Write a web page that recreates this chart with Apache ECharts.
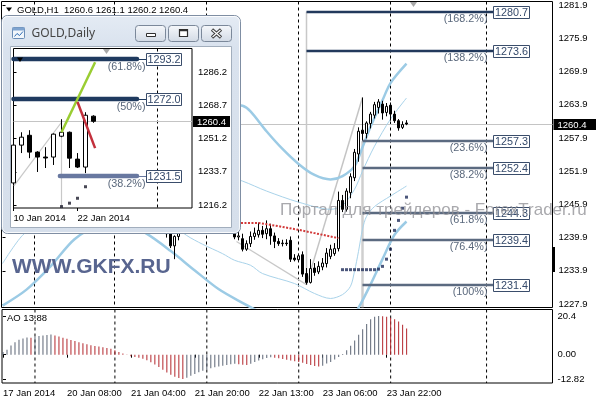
<!DOCTYPE html>
<html>
<head>
<meta charset="utf-8">
<script src="https://cdn.jsdelivr.net/npm/echarts@6.0.0/dist/echarts.min.js"></script>
<style>
html,body{margin:0;padding:0;background:#fff;overflow:hidden}
#chart{width:596px;height:400px}
</style>
</head>
<body>
<div id="chart"></div>
<script>
// ================= DATA =================
const symbolH1 = 'GOLD,H1';
const headerOHLC = [1260.6, 1261.1, 1260.2, 1260.4];

const h1Open = [1241.6,1242.5,1243.8,1244.6,1245.9,1247.2,1248.0,1249.3,1249.0,1251.4,
1252.2,1253.0,1253.8,1253.1,1252.6,1253.2,1252.5,1254.3,1256.1,1258.2,
1259.0,1257.0,1255.8,1255.1,1255.6,1254.9,1255.2,1254.5,1254.8,1254.2,
1254.6,1254.0,1252.6,1251.4,1250.3,1249.0,1247.6,1246.3,1244.9,1243.6,
1242.4,1241.5,1240.6,1238.4,1240.1,1240.9,1241.8,1242.5,1242.0,1243.0,
1243.6,1243.1,1243.5,1243.0,1242.4,1242.8,1241.9,1242.2,1241.3,1240.0,
1239.7,1237.8,1238.8,1240.1,1240.4,1241.2,1240.6,1241.5,1240.2,1239.2,
1238.8,1238.9,1239.4,1236.2,1235.9,1236.8,1233.4,1231.8,1234.4,1233.7,
1234.6,1235.2,1236.5,1237.0,1237.9,1246.6,1245.0,1248.0,1250.7,1255.0,
1259.3,1258.7,1260.5,1262.0,1263.4,1264.0,1262.5,1263.8,1262.2,1261.0,
1259.8,1260.6];
const h1High = [1243.0,1244.2,1245.0,1246.4,1247.8,1248.5,1249.9,1250.6,1251.8,1252.8,
1253.6,1254.4,1254.6,1253.9,1253.5,1254.0,1254.9,1256.8,1258.9,1261.5,
1259.8,1257.9,1256.6,1256.0,1256.3,1255.7,1255.9,1255.4,1255.5,1255.0,
1255.3,1254.6,1253.3,1252.0,1251.1,1249.7,1248.4,1247.0,1245.6,1244.3,
1243.2,1242.1,1241.0,1240.3,1241.5,1242.3,1243.0,1243.6,1243.4,1244.2,
1244.5,1244.0,1244.4,1243.8,1243.1,1243.3,1242.6,1242.8,1241.8,1241.2,
1240.6,1239.4,1241.0,1241.7,1242.6,1242.0,1243.0,1242.4,1240.8,1239.8,
1239.5,1239.6,1240.1,1236.9,1237.0,1237.4,1234.4,1236.0,1235.3,1235.6,
1236.2,1238.0,1238.6,1238.9,1248.2,1247.6,1248.8,1251.5,1255.9,1259.8,
1265.2,1260.9,1262.6,1264.4,1264.9,1264.6,1264.2,1264.3,1262.8,1261.3,
1260.9,1261.1];
const h1Low = [1241.2,1242.0,1243.2,1244.1,1245.3,1246.6,1247.4,1248.5,1248.7,1250.6,
1251.5,1252.3,1252.6,1252.0,1251.8,1252.4,1252.1,1253.8,1255.4,1257.6,
1256.4,1255.2,1254.4,1254.2,1254.6,1253.9,1254.1,1253.6,1253.8,1253.5,
1253.7,1252.2,1251.0,1249.8,1248.6,1247.2,1245.9,1244.5,1243.1,1242.0,
1241.0,1239.9,1238.0,1236.0,1239.4,1240.6,1241.2,1241.9,1241.6,1242.5,
1242.8,1242.4,1242.9,1242.1,1241.6,1241.5,1241.2,1240.8,1239.6,1239.4,
1237.4,1237.5,1238.2,1239.5,1239.9,1239.8,1239.6,1238.6,1238.0,1238.4,
1238.3,1238.4,1235.5,1235.6,1235.6,1232.8,1231.4,1231.6,1233.0,1233.3,
1234.0,1234.5,1236.0,1236.6,1237.4,1244.5,1244.6,1247.0,1250.1,1253.6,
1257.4,1257.8,1259.6,1261.4,1262.3,1261.2,1261.8,1261.0,1260.6,1259.2,
1259.5,1260.2];
const h1Close = [1242.5,1243.8,1244.6,1245.9,1247.2,1248.0,1249.3,1249.0,1251.4,1252.2,
1253.0,1253.8,1253.1,1252.6,1253.2,1252.8,1254.3,1256.1,1258.2,1259.0,
1257.0,1255.8,1255.1,1255.6,1254.9,1255.2,1254.5,1254.8,1254.2,1254.6,
1254.0,1252.6,1251.4,1250.3,1249.0,1247.6,1246.3,1244.9,1243.6,1242.4,
1241.5,1240.6,1238.4,1240.1,1240.9,1241.8,1242.5,1242.0,1243.0,1243.6,
1243.1,1243.5,1243.0,1242.4,1242.8,1241.9,1242.2,1241.3,1240.0,1240.2,
1237.8,1238.8,1240.1,1240.7,1241.2,1240.5,1241.5,1240.2,1239.2,1238.8,
1238.9,1238.8,1236.0,1235.9,1236.6,1233.3,1231.8,1234.3,1233.6,1234.7,
1235.3,1237.1,1237.8,1237.9,1246.6,1245.0,1248.3,1250.9,1255.3,1259.1,
1258.7,1260.6,1262.2,1263.9,1264.4,1262.4,1263.6,1262.2,1261.0,1259.7,
1260.3,1260.4];

const aoValues = [1.4,2.6,4.8,6.6,7.9,8.6,9.1,9.0,9.6,9.9,
10.1,10.4,10.7,10.2,9.6,9.0,8.4,7.8,7.2,6.6,
6.0,5.5,5.0,4.6,4.3,4.0,3.6,3.1,2.3,1.4,
0.6,0.05,-0.8,-1.2,-1.6,-2.2,-3.0,-4.0,-5.2,-6.5,
-8.0,-9.4,-10.6,-11.6,-12.3,-12.82,-12.2,-11.2,-10.2,-9.3,
-8.5,-7.8,-7.2,-6.7,-6.2,-5.8,-5.4,-5.1,-4.8,-5.0,
-5.3,-5.5,-4.8,-3.9,-3.1,-2.4,-1.8,-1.4,-1.6,-1.9,
-2.3,-2.7,-3.1,-3.5,-3.9,-4.3,-4.9,-5.5,-6.0,-6.3,
-5.8,-4.7,-3.8,-2.6,-1.2,0.4,2.3,4.7,7.5,10.5,
13.4,16.2,18.7,20.0,20.4,20.3,20.1,19.6,18.8,17.5,
15.8,13.88];
const aoLabel = 'AO 13.88';

const xTickBars = [0, 16, 32, 48, 64, 80, 96];
const xTickLabels = ['17 Jan 2014','20 Jan 08:00','21 Jan 04:00','21 Jan 20:00','22 Jan 13:00','23 Jan 06:00','23 Jan 22:00'];
const priceTicks = [1281.9,1275.9,1269.9,1263.9,1257.9,1251.9,1245.9,1239.9,1233.9,1227.9];
const aoTicks = [20.4, 0, -12.82];
const aoTickLabels = ['20.4','0.00','-12.82'];
const gridBars = [8, 28, 51, 74, 97, 121];
const currentPrice = 1260.4;

const bbOuterUpper = [[0,1262.5],[8,1264.5],[16,1266.0],[24,1266.8],[32,1266.2],[40,1265.5],[48,1264.8],[54,1264.3],[60,1263.7],[62,1262.7],[66,1259.1],[70,1255.9],[74,1253.2],[78,1251.2],[82,1250.4],[85,1251.0],[88,1252.8],[90,1256.2],[92,1259.9],[95,1264.7],[97,1267.8],[101,1271.3]];
const bbOuterLower = [[0,1227.6],[6,1230.5],[12,1234.7],[18,1239.6],[24,1242.0],[30,1242.6],[36,1240.6],[42,1237.5],[48,1234.0],[54,1230.6],[60,1228.1],[64,1226.6],[70,1224.5],[76,1223.0],[82,1222.6],[86,1223.8],[89,1227.2],[92,1231.4],[95,1236.0],[98,1240.4],[101,1242.8]];
const bbInnerUpper = [[0,1254.0],[10,1256.5],[20,1258.5],[30,1258.0],[40,1255.5],[50,1252.5],[60,1250.1],[66,1248.3],[74,1246.3],[82,1245.0],[85,1245.7],[88,1248.6],[90,1251.9],[93,1256.4],[97,1261.3],[101,1265.1]];
const bbInnerLower = [[0,1235.2],[5,1240.3],[10,1242.8],[20,1245.5],[30,1246.5],[40,1243.5],[46,1240.3],[50,1238.7],[55,1237.0],[58,1235.8],[62,1234.9],[65,1233.4],[73,1231.6],[78,1229.8],[82,1228.9],[85,1229.6],[87,1231.1],[88,1233.8],[89,1237.4],[90,1241.4],[91,1243.7],[93,1245.5],[97,1247.4],[101,1249.2]];
const redStop = [[50,1242.3],[56,1242.5],[60,1242.55],[64,1242.55],[69,1241.95],[74,1241.3],[78,1240.7],[82,1240.1],[84,1239.8]];
const sarBars = [85,86,87,88,89,90,91,92,93,94,95,96,97,98,99,100,101];
const sarValues = [1234.1,1234.1,1234.1,1234.1,1234.1,1234.1,1234.1,1234.1,1234.1,1234.2,1234.7,1236.0,1237.8,1241.2,1243.0,1245.2,1247.2];
const grayLines = [[76,1231.4,90,1265.2],[58.5,1239.2,76,1231.4],[76,1280.7,76,1231.4],[90,1257.3,90,1227.3]];
const fibLevels = [1280.7,1273.6,1257.3,1252.4,1244.3,1239.4,1231.4];
const fibLabels = ['(168.2%)','(138.2%)','(23.6%)','(38.2%)','(61.8%)','(76.4%)','(100%)'];
const fibStartBars = [76,76,90,90,90,90,90];

// ---- Daily inset ----
const dailyTitle = 'GOLD,Daily';
const dailyOpen  = [1227.8,1247.8,1253.0,1244.1,1241.5,1241.5,1252.5,1254.6,1240.4,1236.2,1263.1];
const dailyHigh  = [1249.0,1254.6,1255.7,1244.6,1246.7,1254.0,1261.5,1255.0,1243.6,1265.2,1263.6];
const dailyLow   = [1227.0,1243.6,1240.9,1233.6,1235.7,1237.3,1252.0,1235.7,1235.7,1233.0,1259.6];
const dailyClose = [1247.8,1252.0,1244.1,1241.5,1241.0,1253.6,1254.6,1240.9,1236.2,1263.6,1260.4];
const dailyTickBars = [0, 8];
const dailyTickLabels = ['10 Jan 2014','22 Jan 2014'];
const dailyPriceTicks = [1286.2,1268.7,1251.2,1233.7,1216.2];
const dailyGridBars = [18];
const dailyFibLevels = [1293.2,1272.0,1231.5];
const dailyFibLabels = ['(61.8%)','(50%)','(38.2%)'];
const dailyFibStart = [0,0,5.8];
const dailySar = [[6,1215.3],[7,1217.1],[8,1219.7],[9,1225.8]];
const dailyGreen = [[6,1254.6],[10.2,1291.6]];
const dailyRed = [[8,1270.6],[10.2,1246.2]];
const dailyGray = [[0.05,1226.2,6,1259.9],[6,1259.9,6,1214.6]];

// ================= RENDER =================
const FONT = '"Liberation Sans", Arial, sans-serif';
const MAIN_FIB_END = 122.625;
const DAILY_FIB_END = 15.44;

function txt(x, y, text, o) {
  o = o || {};
  const al = o.align || 'left', va = o.va || 'middle';
  return {x: x, y: y, text: text, fill: o.fill || '#000', fontSize: o.size || 9.5,
    fontFamily: o.family || FONT, fontWeight: o.weight || 'normal',
    align: al, verticalAlign: va, textAlign: al, textVerticalAlign: va};
}

function gridlineSeries(xi, yi, bars, yVal, z) {
  return {type:'custom', xAxisIndex:xi, yAxisIndex:yi, z:z, silent:true,
    data: bars.map(b => [b, yVal]), encode:{x:0, y:1},
    renderItem: function(params, api) {
      const cs = params.coordSys;
      const x = api.coord([api.value(0), yVal])[0];
      return {type:'line', shape:{x1:x, y1:cs.y, x2:x, y2:cs.y+cs.height},
        style:{stroke:'#000', lineWidth:1, lineDash:[3,3]}};
    }};
}

function fibSeries(xi, yi, z, cfg) {
  return {type:'custom', xAxisIndex:xi, yAxisIndex:yi, z:z, silent:true,
    data: cfg.levels.map((p,k) => [cfg.starts[k], p, k]), encode:{x:0, y:1},
    renderItem: function(params, api) {
      const k = api.value(2), p = api.value(1);
      const s = api.coord([api.value(0), p]);
      const e = api.coord([cfg.end, p]);
      const y = Math.round(s[1]);
      const col = cfg.colors[k];
      const bx = Math.round(e[0] + cfg.gap) + 0.5;
      const ch = [{type:'line', shape:{x1:s[0], y1:y, x2:e[0], y2:y}, style:{stroke:col, lineWidth:cfg.lw, lineCap:cfg.cap}}];
      if (cfg.gap > 0) ch.push({type:'line', shape:{x1:e[0], y1:y+0.5, x2:bx, y2:y+0.5}, style:{stroke:col, lineWidth:1}});
      ch.push({type:'rect', shape:{x:bx, y:y - cfg.bh/2 + 0.5, width:cfg.bw, height:cfg.bh}, style:{fill:'#fff', stroke:cfg.boxStroke, lineWidth:1}});
      ch.push({type:'text', style: txt(bx + cfg.bw/2, y + 1, cfg.levels[k].toFixed(1), {align:'center', size:10.8, fill:cfg.textColor})});
      ch.push({type:'text', style: txt(bx - cfg.pctGap, y + cfg.pctDy, cfg.labels[k], {align:'right', size:10.8, fill:'#5a687c'})});
      return {type:'group', children: ch};
    }};
}

function priceLineSeries(xi, yi, z, boxW) {
  return {type:'custom', xAxisIndex:xi, yAxisIndex:yi, z:z, silent:true,
    data:[[0, currentPrice]], encode:{x:0, y:1},
    renderItem: function(params, api) {
      const cs = params.coordSys;
      const y = Math.round(api.coord([0, api.value(1)])[1]) + 0.5;
      const rx = cs.x + cs.width + 1;
      return {type:'group', children:[
        {type:'line', shape:{x1:cs.x, y1:y, x2:cs.x+cs.width, y2:y}, style:{stroke:'#c4c4c4', lineWidth:1}},
        {type:'rect', shape:{x:rx, y:y-5.5, width:boxW, height:11}, style:{fill:'#000'}},
        {type:'text', style: txt(rx + 4, y + 0.5, currentPrice.toFixed(1), {fill:'#fff'})}
      ]};
    }};
}

function segSeries(xi, yi, z, segs, colors, widths) {
  return {type:'custom', xAxisIndex:xi, yAxisIndex:yi, z:z, silent:true,
    data: segs.map((s,k) => [s[0], s[1], s[2], s[3], k]), encode:{x:0, y:1},
    renderItem: function(params, api) {
      const k = api.value(4);
      const a = api.coord([api.value(0), api.value(1)]);
      const b = api.coord([api.value(2), api.value(3)]);
      return {type:'line', shape:{x1:a[0], y1:a[1], x2:b[0], y2:b[1]}, style:{stroke:colors[k], lineWidth:widths[k]}};
    }};
}

function bandLine(data, width, color) {
  return {type:'line', xAxisIndex:0, yAxisIndex:0, data:data, symbol:'none', smooth:0.3,
    lineStyle:{color:color, width:width}, z:2, silent:true};
}

const AO_UP = '#5b6474', AO_DOWN = '#b3262c';

const btnGrad = new echarts.graphic.LinearGradient(0,0,0,1,[{offset:0,color:'#f6f8fb'},{offset:0.5,color:'#e4e9f0'},{offset:1,color:'#d2dae5'}]);
const frameGrad = new echarts.graphic.LinearGradient(0,0,0,1,[{offset:0,color:'#e4ebf4'},{offset:0.15,color:'#d9e2ee'},{offset:1,color:'#d6dfeb'}]);

const axisFont = {fontSize:9.5, fontFamily:FONT, color:'#000'};

const option = {
  animation: false,
  backgroundColor: '#fff',
  textStyle: {fontFamily: FONT},
  grid: [
    {left:1.5, top:1.5, width:551, height:306, show:true, borderColor:'#000', borderWidth:1, backgroundColor:'#fff'},
    {left:1.5, top:309.5, width:551, height:73.5, show:true, borderColor:'#000', borderWidth:1, backgroundColor:'#fff'},
    {left:13.5, top:48.5, width:178.5, height:159.5, show:true, borderColor:'#000', borderWidth:1, backgroundColor:'#fff', z:101}
  ],
  xAxis: [
    {gridIndex:0, type:'value', min:-0.25, max:137.5, show:false},
    {gridIndex:1, type:'value', min:-0.25, max:137.5,
      axisLine:{show:false}, splitLine:{show:false},
      axisTick:{show:true, length:3, customValues:xTickBars, lineStyle:{color:'#000'}},
      axisLabel:Object.assign({customValues:xTickBars, align:'left', margin:5,
        formatter: v => xTickLabels[xTickBars.indexOf(Math.round(v))]}, axisFont)},
    {gridIndex:2, type:'value', min:0, max:22.3125, z:105,
      axisLine:{show:false}, splitLine:{show:false},
      axisTick:{show:true, length:3, customValues:dailyTickBars, lineStyle:{color:'#000'}},
      axisLabel:Object.assign({customValues:dailyTickBars, align:'left', margin:5,
        formatter: v => dailyTickLabels[dailyTickBars.indexOf(Math.round(v))]}, axisFont)}
  ],
  yAxis: [
    {gridIndex:0, type:'value', position:'right', min:1227.27, max:1282.53,
      axisLine:{show:false}, splitLine:{show:false},
      axisTick:{show:true, length:3, customValues:priceTicks, lineStyle:{color:'#000'}},
      axisLabel:Object.assign({customValues:priceTicks, margin:6, formatter: v => v.toFixed(1)}, axisFont)},
    {gridIndex:1, type:'value', position:'right', min:-14.97, max:23.9,
      axisLine:{show:false}, splitLine:{show:false},
      axisTick:{show:true, length:3, customValues:aoTicks, lineStyle:{color:'#000'}},
      axisLabel:Object.assign({customValues:aoTicks, margin:5,
        formatter: v => { let best = 0; aoTicks.forEach((t,k) => { if (Math.abs(t - v) < Math.abs(aoTicks[best] - v)) best = k; }); return aoTickLabels[best]; }}, axisFont)},
    {gridIndex:2, type:'value', position:'right', min:1214.55, max:1298.89, z:105,
      axisLine:{show:false}, splitLine:{show:false},
      axisTick:{show:true, length:3, customValues:dailyPriceTicks, lineStyle:{color:'#000'}},
      axisLabel:Object.assign({customValues:dailyPriceTicks, margin:6, formatter: v => v.toFixed(1)}, axisFont)}
  ],
  series: [
    gridlineSeries(0, 0, gridBars, 1250, 1),
    gridlineSeries(1, 1, gridBars, 0, 1),
    priceLineSeries(0, 0, 2, 43),
    bandLine(bbOuterUpper, 2.5, '#9ccbe5'),
    bandLine(bbOuterLower, 2.5, '#9ccbe5'),
    bandLine(bbInnerUpper, 1, '#a9d3ea'),
    bandLine(bbInnerLower, 1, '#a9d3ea'),
    segSeries(0, 0, 2, grayLines, ['#c4c4c4','#c8c8c8','#c8c8c8','#cfcfcf'], [1.5,1.2,1.5,2.5]),
    {type:'candlestick', xAxisIndex:0, yAxisIndex:0, z:3, silent:true, barWidth:3, clip:true,
      data: h1Open.map((o,i) => [i, o, h1Close[i], h1Low[i], h1High[i]]),
      encode:{x:0, y:[1,2,3,4]},
      itemStyle:{color:'#fff', color0:'#000', borderColor:'#000', borderColor0:'#000', borderWidth:1}},
    {type:'line', xAxisIndex:0, yAxisIndex:0, z:4, silent:true, data: redStop, symbol:'none',
      lineStyle:{color:'#d23a3a', width:2, type:[2,1.5]}},
    {type:'scatter', xAxisIndex:0, yAxisIndex:0, z:4, silent:true,
      data: sarBars.map((b,k) => [b, sarValues[k]]), symbol:'rect', symbolSize:3,
      itemStyle:{color:'#1f2d5a'}},
    fibSeries(0, 0, 5, {levels:fibLevels, labels:fibLabels, starts:fibStartBars, end:MAIN_FIB_END,
      colors:['#22395c','#22395c','#5b6a80','#5b6a80','#5b6a80','#5b6a80','#5b6a80'],
      lw:2.5, cap:'butt', gap:0, bw:36, bh:12, boxStroke:'#3a4d6b', textColor:'#34496a', pctGap:6, pctDy:7.5}),
    {type:'bar', xAxisIndex:1, yAxisIndex:1, z:2, silent:true, barWidth:1,
      data: aoValues.map((v,i) => ({value:[i, v], itemStyle:{color: (i > 0 && v < aoValues[i-1]) ? AO_DOWN : AO_UP}}))},

    // ---- inset ----
    gridlineSeries(2, 2, dailyGridBars, 1250, 106),
    priceLineSeries(2, 2, 106, 37),
    segSeries(2, 2, 107, dailyGray, ['#c8c8c8','#c8c8c8'], [1.2,1.2]),
    {type:'candlestick', xAxisIndex:2, yAxisIndex:2, z:108, silent:true, barWidth:5, clip:true,
      data: dailyOpen.map((o,i) => [i, o, dailyClose[i], dailyLow[i], dailyHigh[i]]),
      encode:{x:0, y:[1,2,3,4]},
      itemStyle:{color:'#fff', color0:'#000', borderColor:'#000', borderColor0:'#000', borderWidth:1}},
    fibSeries(2, 2, 109, {levels:dailyFibLevels, labels:dailyFibLabels, starts:dailyFibStart, end:DAILY_FIB_END,
      colors:['#1f3a5f','#1f3a5f','#6878a0'], lw:4.5, cap:'round', gap:9, bw:35, bh:12,
      boxStroke:'#3a4d6b', textColor:'#34496a', pctGap:1, pctDy:7.7}),
    {type:'line', xAxisIndex:2, yAxisIndex:2, z:110, silent:true, data:dailyGreen, symbol:'none', lineStyle:{color:'#9acd32', width:2.5}},
    {type:'line', xAxisIndex:2, yAxisIndex:2, z:110, silent:true, data:dailyRed, symbol:'none', lineStyle:{color:'#c3303c', width:2.5}},
    {type:'scatter', xAxisIndex:2, yAxisIndex:2, z:110, silent:true, data:dailySar, symbol:'rect', symbolSize:3, itemStyle:{color:'#1a1a2a'}}
  ],
  graphic: [
    // header
    {type:'polygon', z:60, shape:{points:[[6,7.5],[12,7.5],[9,11.5]]}, style:{fill:'#000'}},
    {type:'text', z:60, style: txt(17, 10, symbolH1)},
    {type:'text', z:60, style: txt(64, 10, headerOHLC.map(v => v.toFixed(1)).join(' '))},
    // chart shift marker
    {type:'polygon', z:60, shape:{points:[[410,2],[417,2],[413.5,7]]}, style:{fill:'#a8a8a8'}},
    // right side marker bar
    {type:'rect', z:60, shape:{x:552, y:247, width:3, height:25}, style:{fill:'#000'}},
    // watermarks
    {type:'text', z:50, style: txt(280, 210, 'Портал для трейдеров - ForexTrader.ru', {size:17, fill:'rgba(140,140,145,0.75)'})},
    {type:'text', z:50, style: txt(12, 267, 'WWW.GKFX.RU', {size:21, weight:'bold', fill:'#58658f'})},
    // AO label
    {type:'text', z:60, style: txt(7, 318, aoLabel)},

    // ---- inset window chrome ----
    {type:'rect', z:100, shape:{x:1.5, y:15.5, width:239, height:218, r:6}, style:{fill:frameGrad, stroke:'#7f8ea3', lineWidth:1}},
    {type:'rect', z:100, shape:{x:2.5, y:16.5, width:237, height:216, r:5}, style:{fill:'none', stroke:'rgba(255,255,255,0.85)', lineWidth:1}},
    {type:'rect', z:100, shape:{x:10.5, y:46.5, width:221, height:181}, style:{fill:'#fff', stroke:'#a2aebd', lineWidth:1}},
    // icon
    {type:'rect', z:100, shape:{x:12.5, y:27.5, width:12, height:11, r:1}, style:{fill:'#f2f6fb', stroke:'#6b8db6', lineWidth:1}},
    {type:'rect', z:100, shape:{x:12.5, y:27.5, width:12, height:3}, style:{fill:'#7ea3cf'}},
    {type:'polyline', z:100, shape:{points:[[14.5,36.5],[17,33.5],[19.5,35.5],[23,31.5]]}, style:{stroke:'#2f6db5', lineWidth:1, fill:'none'}},
    {type:'text', z:100, style: txt(31.5, 34, dailyTitle, {size:12, family:'"Noto Sans", "Open Sans", sans-serif', fill:'#454545'})},
    // buttons
    {type:'rect', z:100, shape:{x:135.5, y:25.5, width:30, height:16, r:3}, style:{fill:btnGrad, stroke:'#7b889a', lineWidth:1}},
    {type:'rect', z:100, shape:{x:168.5, y:25.5, width:30, height:16, r:3}, style:{fill:btnGrad, stroke:'#7b889a', lineWidth:1}},
    {type:'rect', z:100, shape:{x:201.5, y:25.5, width:30, height:16, r:3}, style:{fill:btnGrad, stroke:'#7b889a', lineWidth:1}},
    {type:'rect', z:100, shape:{x:146.5, y:33.5, width:9, height:3}, style:{fill:'#fff', stroke:'#2f2f2f', lineWidth:1}},
    {type:'rect', z:100, shape:{x:179.5, y:29.5, width:8, height:7}, style:{fill:'#fff', stroke:'#2f2f2f', lineWidth:1.2}},
    {type:'line', z:100, shape:{x1:179.5, y1:30.5, x2:187.5, y2:30.5}, style:{stroke:'#2f2f2f', lineWidth:1.5}},
    {type:'line', z:100, shape:{x1:212, y1:29.5, x2:221, y2:37.5}, style:{stroke:'#3a3a3a', lineWidth:3.2}},
    {type:'line', z:100, shape:{x1:221, y1:29.5, x2:212, y2:37.5}, style:{stroke:'#3a3a3a', lineWidth:3.2}},
    {type:'line', z:100, shape:{x1:212.5, y1:30, x2:220.5, y2:37}, style:{stroke:'#fff', lineWidth:1.2}},
    {type:'line', z:100, shape:{x1:220.5, y1:30, x2:212.5, y2:37}, style:{stroke:'#fff', lineWidth:1.2}},
    // inset markers
    {type:'polygon', z:112, shape:{points:[[17,57.5],[23,57.5],[20,62]]}, style:{fill:'#000'}},
    {type:'polygon', z:112, shape:{points:[[103,49],[110,49],[106.5,54]]}, style:{fill:'#a8a8a8'}}
  ]
};

const chart = echarts.init(document.getElementById('chart'), null, {renderer:'canvas', width:596, height:400, devicePixelRatio:1});
chart.setOption(option);
</script>
</body>
</html>
